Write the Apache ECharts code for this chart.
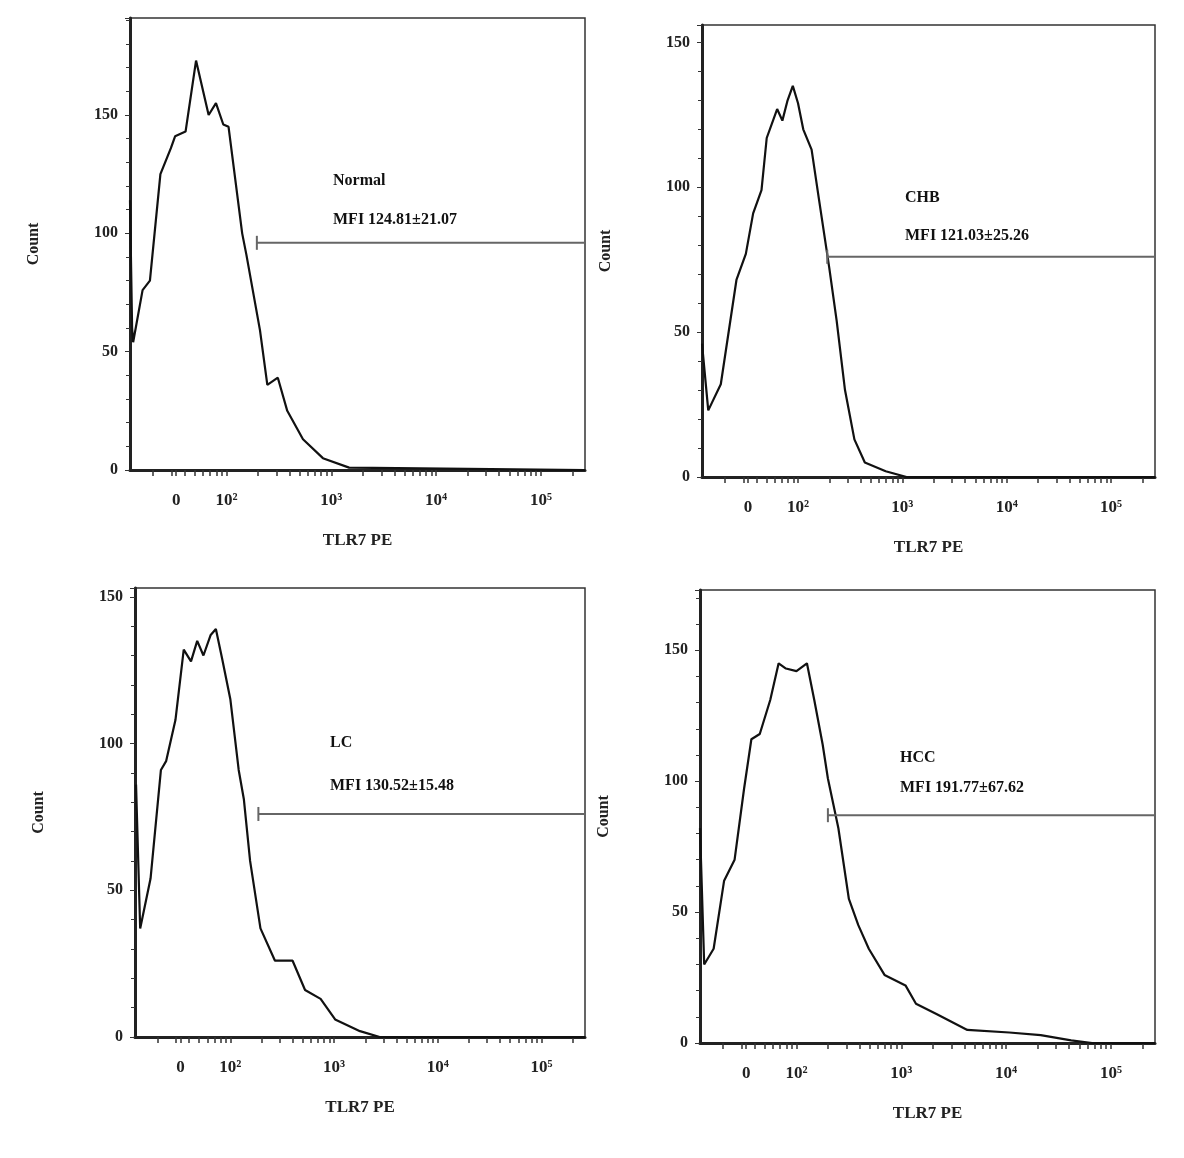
<!DOCTYPE html>
<html><head><meta charset="utf-8">
<script src="https://cdn.jsdelivr.net/npm/echarts@6/dist/echarts.min.js"></script>
<style>html,body{margin:0;background:#fff}#c{width:1184px;height:1158px}</style>
</head><body><div id="c"></div>
<script>
// x in display units: 10^2 -> 2, 10^3 -> 3 ... ; "0" at 1.52
const normalX=[1.08,1.10,1.11,1.20,1.27,1.37,1.47,1.51,1.61,1.71,1.83,1.90,1.97,2.02,2.15,2.19,2.32,2.39,2.49,2.58,2.73,2.92,3.17,5.42];
const normalY=[114,60,54,76,80,125,136,141,143,173,150,155,146,145,100,91,59,36,39,25,13,5,1,0];
const chbX=[1.08,1.14,1.26,1.41,1.50,1.57,1.65,1.70,1.80,1.85,1.90,1.95,2.00,2.05,2.13,2.20,2.30,2.37,2.45,2.54,2.64,2.84,3.04,5.42];
const chbY=[46,23,32,68,77,91,99,117,127,123,130,135,129,120,113,96,72,54,30,13,5,2,0,0];
const lcX=[1.09,1.13,1.23,1.33,1.38,1.47,1.55,1.62,1.68,1.74,1.81,1.86,1.92,2.00,2.08,2.13,2.19,2.29,2.43,2.60,2.72,2.87,3.01,3.25,3.44,5.42];
const lcY=[86,37,54,91,94,108,132,128,135,130,137,139,129,115,91,81,60,37,26,26,16,13,6,2,0,0];
const hccX=[1.08,1.12,1.21,1.31,1.41,1.50,1.57,1.65,1.75,1.83,1.90,2.00,2.10,2.17,2.25,2.30,2.40,2.50,2.59,2.69,2.84,3.04,3.14,3.34,3.63,4.03,4.33,4.62,4.82,5.42];
const hccY=[82,30,36,62,70,97,116,118,131,145,143,142,145,131,114,101,82,55,45,36,26,22,15,11,5,4,3,1,0,0];
const tickPos=[1.52,2,3,4,5];
const tickText=['0','10²','10³','10⁴','10⁵'];
const names=['Normal','CHB','LC','HCC'];
const mfi=['MFI 124.81±21.07','MFI 121.03±25.26','MFI 130.52±15.48','MFI 191.77±67.62'];
const gateY=[96,76,76,87];
const gateX=[2.29,2.28,2.27,2.30];

const panels=[
 {x:normalX,y:normalY,ymax:191,g:{left:130,top:18,width:455,height:452},tx:333,ty:[183,222]},
 {x:chbX,y:chbY,ymax:156,g:{left:702,top:25,width:453,height:452},tx:905,ty:[200,238]},
 {x:lcX,y:lcY,ymax:153,g:{left:135,top:588,width:450,height:449},tx:330,ty:[745,788]},
 {x:hccX,y:hccY,ymax:173,g:{left:700,top:590,width:455,height:453},tx:900,ty:[760,790]}
];
const minor=[];
for(let d=1;d<5.5;d++)for(let k=2;k<10;k++){const v=d+Math.log10(k);if(v>1.08&&v<5.42)minor.push(v);}
const font='Liberation Serif';
const opt={animation:false,grid:[],xAxis:[],yAxis:[],series:[],graphic:[]};
panels.forEach((p,i)=>{
 opt.grid.push(Object.assign({show:true,borderColor:'#333',borderWidth:1.5},p.g));
 opt.xAxis.push({gridIndex:i,type:'value',min:1.08,max:5.42,name:'TLR7 PE',nameLocation:'middle',nameGap:62,
  nameTextStyle:{fontFamily:font,fontWeight:'bold',fontSize:17,color:'#222'},
  axisLine:{lineStyle:{color:'#222',width:3}},splitLine:{show:false},
  axisTick:{customValues:minor.concat(tickPos),length:6,inside:false,lineStyle:{color:'#333',width:1.5}},
  axisLabel:{customValues:tickPos,formatter:v=>{let j=tickPos.findIndex(t=>Math.abs(t-v)<1e-6);return j>=0?tickText[j]:'';},
   margin:22,fontFamily:font,fontWeight:'bold',fontSize:17,color:'#222'}});
 opt.yAxis.push({gridIndex:i,type:'value',min:0,max:p.ymax,interval:50,name:'Count',nameLocation:'middle',nameGap:88,
  nameTextStyle:{fontFamily:font,fontWeight:'bold',fontSize:16,color:'#222'},
  axisLine:{show:true,lineStyle:{color:'#222',width:3}},splitLine:{show:false},
  axisTick:{show:true,length:5,lineStyle:{color:'#333'}},minorTick:{show:true,splitNumber:5,length:4,lineStyle:{color:'#333'}},
  axisLabel:{formatter:v=>v%50===0?String(v):'',fontFamily:font,fontWeight:'bold',fontSize:16,color:'#222',margin:12}});
 opt.series.push({type:'line',xAxisIndex:i,yAxisIndex:i,data:p.x.map((v,k)=>[v,p.y[k]]),symbol:'none',
  lineStyle:{color:'#111',width:2.2},z:3});
 opt.series.push({type:'line',xAxisIndex:i,yAxisIndex:i,
  data:[{value:[gateX[i],gateY[i]],symbol:'rect',symbolSize:[2,14]},{value:[5.42,gateY[i]],symbol:'none'}],
  itemStyle:{color:'#666'},lineStyle:{color:'#666',width:2}});
 opt.graphic.push({type:'text',left:p.tx,top:p.ty[0]-10,style:{text:names[i],font:'bold 16px "Liberation Serif"',fill:'#111'}});
 opt.graphic.push({type:'text',left:p.tx,top:p.ty[1]-10,style:{text:mfi[i],font:'bold 16px "Liberation Serif"',fill:'#111'}});
});
echarts.init(document.getElementById('c')).setOption(opt);
</script></body></html>
